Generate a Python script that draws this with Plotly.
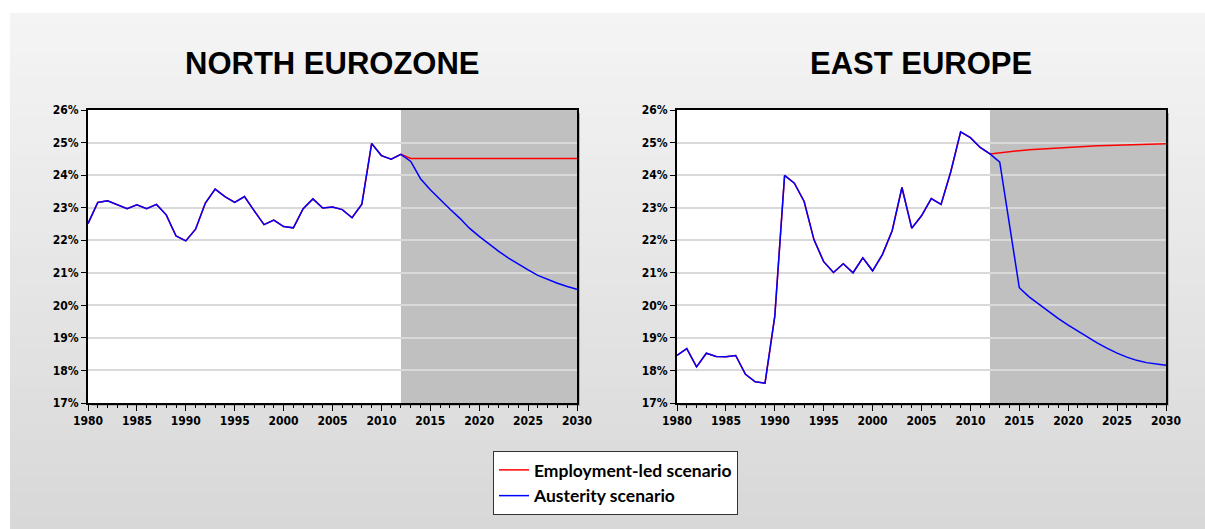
import plotly.graph_objects as go
from plotly.subplots import make_subplots

years = list(range(1980, 2031))

# historical share, 1980-2012 (%)
north_hist = [22.51, 23.16, 23.21, 23.09, 22.97, 23.09, 22.97, 23.10, 22.78, 22.13,
              21.98, 22.34, 23.14, 23.57, 23.34, 23.16, 23.34, 22.90, 22.48, 22.62,
              22.42, 22.38, 22.97, 23.27, 22.99, 23.02, 22.94, 22.69, 23.11, 24.97,
              24.60, 24.49, 24.64]
east_hist = [18.46, 18.67, 18.11, 18.53, 18.43, 18.42, 18.46, 17.88, 17.65, 17.61,
             19.67, 23.99, 23.75, 23.19, 22.02, 21.34, 21.01, 21.28, 21.00, 21.46,
             21.06, 21.56, 22.29, 23.62, 22.37, 22.75, 23.28, 23.10, 24.11, 25.33,
             25.15, 24.85, 24.65]

# projections, 2013-2030 (%)
north_employment = [24.51, 24.51, 24.51, 24.51, 24.51, 24.51, 24.51, 24.51, 24.51,
                    24.51, 24.51, 24.51, 24.51, 24.51, 24.51, 24.51, 24.51, 24.51]
north_austerity = [24.42, 23.89, 23.55, 23.24, 22.96, 22.68, 22.37, 22.12, 21.88,
                   21.66, 21.45, 21.26, 21.09, 20.92, 20.79, 20.68, 20.58, 20.49]
east_employment = [24.69, 24.72, 24.75, 24.78, 24.80, 24.82, 24.84, 24.86, 24.87,
                   24.89, 24.90, 24.91, 24.92, 24.93, 24.94, 24.95, 24.95, 24.96]
east_austerity = [24.40, 22.47, 20.54, 20.26, 20.03, 19.80, 19.59, 19.39, 19.20,
                  19.01, 18.84, 18.68, 18.53, 18.41, 18.31, 18.24, 18.19, 18.16]

titles = ["NORTH EUROZONE", "EAST EUROPE"]
series_names = ["Employment-led scenario", "Austerity scenario"]
forecast_start = 2012

W, H = 1205, 529
RED, BLUE = "#ff0000", "#0000ff"
TICK_FONT = dict(family="DejaVu Sans Condensed, DejaVu Sans", size=12, color="black",
                 weight="bold")

fig = make_subplots(rows=1, cols=2)

panels = [(north_hist, north_employment, north_austerity),
          (east_hist, east_employment, east_austerity)]
for i, (hist, emp, aus) in enumerate(panels, start=1):
    fig.add_trace(go.Scatter(x=years, y=hist + emp, mode="lines", name=series_names[0],
                             line=dict(color=RED, width=1.5), showlegend=(i == 1)),
                  row=1, col=i)
    fig.add_trace(go.Scatter(x=years, y=hist + aus, mode="lines", name=series_names[1],
                             line=dict(color=BLUE, width=1.5), showlegend=(i == 1)),
                  row=1, col=i)

# pixel boxes of the two plot areas
boxes = [(88, 577), (677, 1166)]
top, bottom = 110, 403
ydom = [1 - bottom / H, 1 - top / H]

shapes = []
# background panel with vertical gradient
n_bands = 40
y0_px = 13
for k in range(n_bands):
    t = k / (n_bands - 1)
    c = round(0xf4 + (0xd8 - 0xf4) * t)
    ya = y0_px + (H - y0_px) * k / n_bands
    yb = y0_px + (H - y0_px) * (k + 1) / n_bands + 0.5
    shapes.append(dict(type="rect", xref="paper", yref="paper", layer="below",
                       x0=10 / W, x1=1, y0=1 - yb / H, y1=1 - ya / H,
                       fillcolor=f"rgb({c},{c},{c})", line_width=0))

for i, (xl, xr) in enumerate(boxes, start=1):
    ax = "x" if i == 1 else f"x{i}"
    ay = "y" if i == 1 else f"y{i}"
    fig.update_xaxes(domain=[xl / W, xr / W], row=1, col=i)
    fig.update_yaxes(domain=ydom, row=1, col=i)
    # soft shadow
    shapes.append(dict(type="rect", xref="paper", yref="paper", layer="below",
                       x0=(xl + 3) / W, x1=(xr + 3) / W,
                       y0=1 - (bottom + 3) / H, y1=1 - (top + 3) / H,
                       fillcolor="#b4b4b4", line_width=0))
    shapes.append(dict(type="rect", xref=f"{ax} domain", yref=f"{ay} domain", layer="below",
                       x0=0, x1=1, y0=0, y1=1, fillcolor="white", line_width=0))
    shapes.append(dict(type="rect", xref=ax, yref=f"{ay} domain", layer="below",
                       x0=forecast_start, x1=2030, y0=0, y1=1,
                       fillcolor="#c0c0c0", line_width=0))
    fig.add_annotation(text=titles[i - 1], xref="paper", yref="paper",
                       x=(xl + xr) / 2 / W, y=1 - 63 / H, showarrow=False,
                       xanchor="center", yanchor="middle",
                       font=dict(family="Liberation Sans", size=31, color="black",
                                 weight="bold"))

fig.update_xaxes(range=[1980, 2030], tick0=1980, dtick=5, ticks="outside", ticklen=6,
                 tickwidth=1, tickcolor="black", automargin=False,
                 minor=dict(ticks="outside", ticklen=3, dtick=1, tickwidth=1,
                            tickcolor="black", showgrid=False),
                 showline=True, linecolor="black", linewidth=2, mirror=True,
                 showgrid=False, zeroline=False, tickfont=TICK_FONT)
fig.update_yaxes(range=[17, 26], dtick=1, ticksuffix="%", ticks="outside", ticklen=5,
                 tickwidth=1, tickcolor="black", automargin=False,
                 showline=True, linecolor="black", linewidth=2, mirror=True,
                 showgrid=True, gridcolor="#d9d9d9", gridwidth=1.5,
                 zeroline=False, tickfont=TICK_FONT)

fig.update_layout(
    template="none",
    width=W, height=H,
    margin=dict(l=0, r=0, t=0, b=0, autoexpand=False),
    paper_bgcolor="white", plot_bgcolor="rgba(0,0,0,0)",
    shapes=shapes,
    showlegend=True,
    legend=dict(x=493 / W, y=1 - 451 / H, xanchor="left", yanchor="top",
                bgcolor="white", bordercolor="#333333", borderwidth=1,
                font=dict(family="Lato", size=17.5, color="black", weight="bold"),
                tracegroupgap=0, itemwidth=30),
)

# drop the default page margin so the figure sits flush in the window
fig.write_html("out.html", config={"displayModeBar": False},
               post_script="document.body.style.margin = '0';")
